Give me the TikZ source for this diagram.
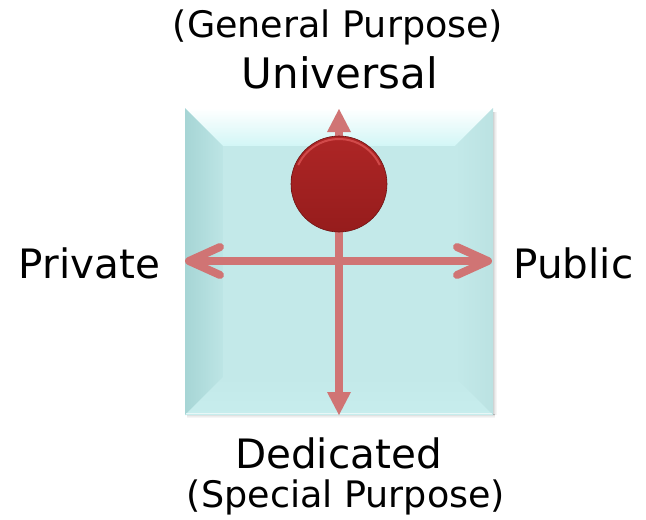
\documentclass[tikz,border=0pt]{standalone}
\usepackage{fontspec}
\setmainfont{DejaVu Sans}
\usetikzlibrary{arrows.meta}
\definecolor{bodycol}{HTML}{C3E9E9}
\definecolor{bevtop}{HTML}{D2F6F6}
\definecolor{bevleftA}{HTML}{A6D5D5}
\definecolor{bevleftB}{HTML}{BDE5E5}
\definecolor{bevrightB}{HTML}{BBE2E2}
\definecolor{bevbot}{HTML}{C7EDED}
\definecolor{arrcol}{HTML}{D07474}
\definecolor{ballA}{HTML}{AE2626}
\definecolor{ballB}{HTML}{961C1C}
\definecolor{ballrim}{HTML}{E25A5A}
\definecolor{balledge}{HTML}{6E1212}
\tikzset{
  biglabel/.style={anchor=base, font=\fontsize{40.5}{48}\selectfont, text=black, inner sep=0pt},
  smalllabel/.style={anchor=base, font=\fontsize{36.5}{43}\selectfont, text=black, inner sep=0pt},
  axisline/.style={draw=arrcol, line width=8pt},
  chevron/.style={draw=arrcol, line width=8pt, line cap=round, line join=round},
  vhead/.style={fill=arrcol},
}
\begin{document}
\begin{tikzpicture}[x=1pt,y=-1pt]
\useasboundingbox (0,0) rectangle (646,520);
% box shadow
\foreach \i/\o in {1/0.18,2/0.12,3/0.07,4/0.04}{
  \fill[black,opacity=\o] (187,414+\i-1) rectangle (495,414+\i);
  \fill[black,opacity=\o] (493+\i-1,112) rectangle (493+\i,415);
}
% box body and bevels
\fill[bodycol] (185,108) rectangle (493,415);
\shade[top color=white, bottom color=bevtop] (185,108) -- (493,108) -- (455,146) -- (223,146) -- cycle;
\shade[left color=bevleftA, right color=bevleftB] (185,108) -- (223,146) -- (223,377) -- (185,415) -- cycle;
\shade[left color=bodycol, right color=bevrightB] (493,108) -- (455,146) -- (455,377) -- (493,415) -- cycle;
\shade[top color=bodycol, bottom color=bevbot] (185,415) -- (223,377) -- (455,377) -- (493,415) -- cycle;
\fill[bodycol] (223,146) rectangle (455,377);
\draw[white,opacity=0.6,line width=0.8pt] (186,413.5) -- (492,413.5);
% coordinates
\coordinate (ttip) at (339,109);
\coordinate (tbase) at (339,132);
\coordinate (btip) at (339,415);
\coordinate (bbase) at (339,392);
\coordinate (ltip) at (189,261);
\coordinate (rtip) at (488,261);
% vertical arrow
\draw[axisline] (tbase) -- (bbase);
\fill[vhead] (ttip) -- ([xshift=-12pt]tbase) -- ([xshift=12pt]tbase) -- cycle;
\fill[vhead] (btip) -- ([xshift=-12pt]bbase) -- ([xshift=12pt]bbase) -- cycle;
% horizontal arrow
\draw[axisline] (ltip) -- (rtip);
\draw[chevron] ([xshift=31pt,yshift=-14pt]ltip) -- (ltip) -- ([xshift=31pt,yshift=14pt]ltip);
\draw[chevron] ([xshift=-31pt,yshift=-14pt]rtip) -- (rtip) -- ([xshift=-31pt,yshift=14pt]rtip);
% ball
\node[circle, minimum size=96pt, inner sep=0pt, top color=ballA, bottom color=ballB, draw=balledge, line width=0.6pt] (ball) at (339,184) {};
\draw[ballrim, line width=2pt, opacity=0.7] ([shift={(25:45pt)}]ball.center) arc[start angle=25, end angle=155, radius=45pt];
% labels
\node[smalllabel] (gp) at (338,37) {(General Purpose)};
\node[biglabel, font=\fontsize{42}{48}\selectfont] (univ) at (340,88) {Universal};
\node[biglabel] (priv) at (89.5,278) {Private};
\node[biglabel] (pub) at (573.5,278) {Public};
\node[biglabel] (ded) at (338.5,468) {Dedicated};
\node[smalllabel] (sp) at (346,507) {(Special Purpose)};
\end{tikzpicture}
\end{document}
